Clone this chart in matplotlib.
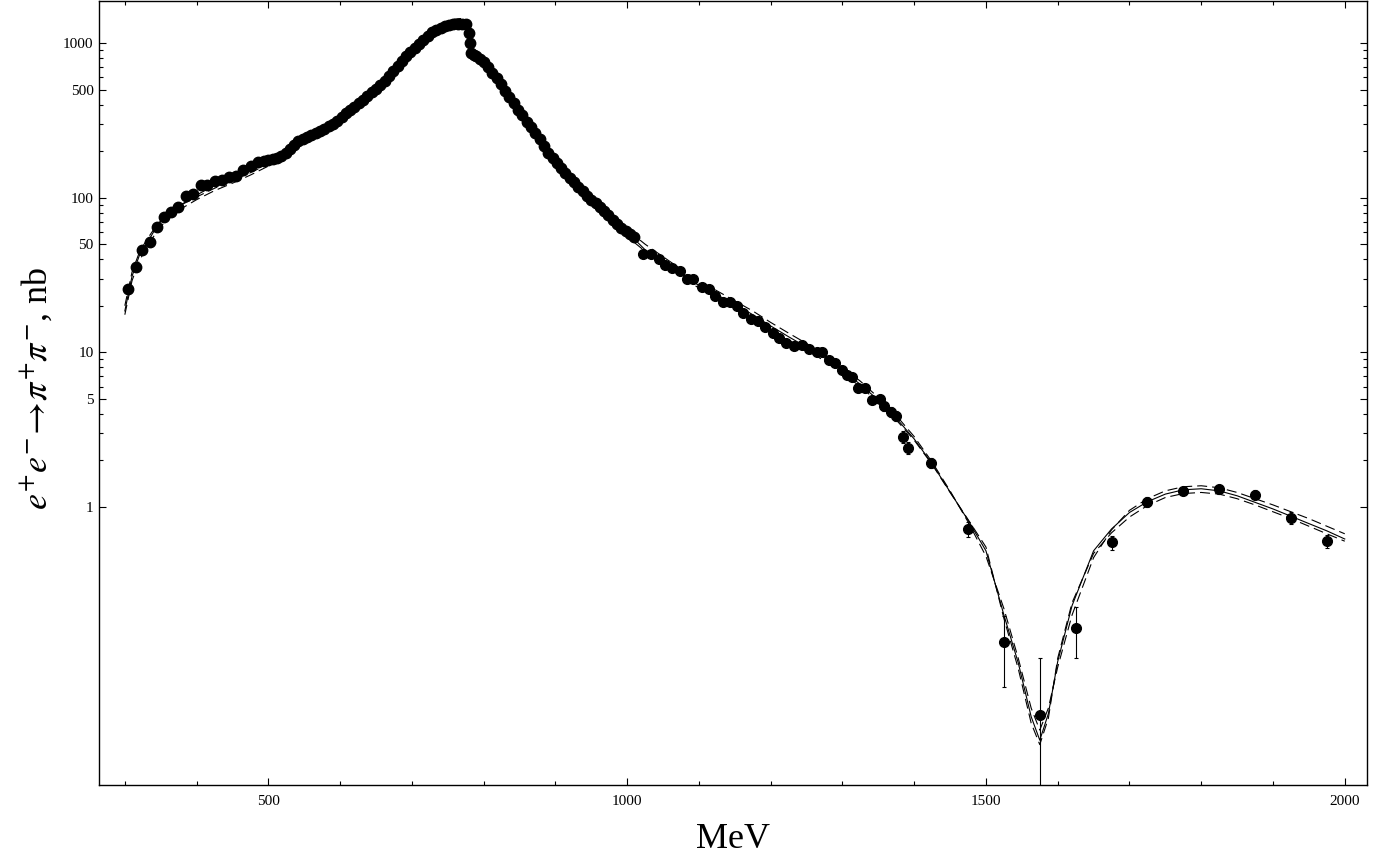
import matplotlib
matplotlib.use('Agg')
import matplotlib.pyplot as plt
from matplotlib.ticker import FixedLocator, FixedFormatter, NullFormatter

plt.rcParams['font.family'] = ['Liberation Serif', 'DejaVu Serif']
plt.rcParams['mathtext.fontset'] = 'stix'

# dense data (no visible error bars), MeV / nb
rho_E = [304, 315, 324, 335, 345, 354, 364, 374, 385, 395, 406, 414, 426, 435, 445, 455, 464, 476, 485, 494,
         500, 506, 512, 518, 524, 530, 536, 542, 548, 554, 560, 566, 572, 578, 584, 590, 596, 602, 608, 614,
         620, 626, 632, 638, 644, 650, 656, 662, 668, 674, 680, 686, 692, 698, 704, 710, 716, 722, 728, 734,
         740, 746, 752, 758, 764, 770, 775, 779, 781, 783, 786, 790, 795, 800, 806, 812, 818, 824, 830, 836,
         842, 848, 854, 860, 866, 872, 878, 884, 890, 896, 902, 908, 914, 920, 926, 932, 938, 944, 950, 956,
         962, 968, 974, 980, 986, 992, 998, 1004, 1010]
rho_sigma = [25.8, 35.8, 46, 52, 65, 75, 81, 87.5, 103, 106, 120, 120, 129, 131, 137, 139, 150, 161, 169, 173,
             174, 177, 181, 185, 195, 207, 220, 233, 241, 248, 254, 261, 270, 280, 290, 300, 315, 333, 352, 368,
             385, 408, 430, 455, 480, 505, 535, 565, 610, 660, 710, 770, 830, 880, 930, 985, 1050, 1110, 1170, 1220,
             1260, 1290, 1310, 1320, 1330, 1335, 1330, 1160, 1000, 860, 840, 820, 790, 750, 700, 640, 590, 540, 490, 450,
             410, 370, 340, 310, 285, 260, 240, 215, 195, 180, 167, 156, 145, 135, 126, 117, 110, 103, 97, 92,
             87, 82, 77, 72, 68, 64, 61, 58, 56]

# sparse data with error bars
hi_E = [1022, 1033, 1044, 1053, 1063, 1073, 1083, 1092, 1104, 1114, 1123, 1133, 1144, 1153, 1162, 1173,
        1182, 1192, 1203, 1212, 1222, 1233, 1243, 1254, 1264, 1272, 1281, 1290, 1299, 1307, 1314, 1322,
        1331, 1341, 1352, 1358, 1367, 1374, 1384, 1392, 1423, 1475, 1525, 1575, 1625, 1675, 1725, 1775,
        1825, 1875, 1925, 1975]
hi_sigma = [43, 43, 40, 36.5, 35, 33.3, 30, 30, 26.3, 25.5, 23, 21.3, 21, 19.8, 17.9, 16.3,
            15.9, 14.5, 13.3, 12.3, 11.4, 10.9, 11.1, 10.5, 10.0, 10.1, 8.9, 8.5, 7.7, 7.1, 6.9, 5.9,
            5.9, 4.9, 5.0, 4.5, 4.1, 3.9, 2.84, 2.41, 1.93, 0.72, 0.133, 0.045, 0.165, 0.59, 1.08, 1.27,
            1.30, 1.20, 0.85, 0.60]
hi_err = [1.5, 1.5, 1.4, 1.3, 1.2, 1.2, 1.1, 1.1, 1.0, 1.0, 0.9, 0.9, 0.8, 0.8, 0.7, 0.7,
          0.7, 0.6, 0.6, 0.5, 0.5, 0.5, 0.5, 0.5, 0.5, 0.5, 0.4, 0.4, 0.4, 0.4, 0.4, 0.35,
          0.35, 0.3, 0.3, 0.3, 0.3, 0.3, 0.25, 0.22, 0.15, 0.08, 0.065, 0.06, 0.06, 0.06, 0.08, 0.08,
          0.08, 0.08, 0.07, 0.06]

# model curves
curve_E = [300, 310, 320, 330, 340, 350, 360, 375, 400, 425, 450, 475,
           500, 525, 550, 575, 600, 625, 650, 675, 700, 725,
           740, 750, 760, 768, 775, 779, 782, 785, 790, 800,
           825, 850, 875, 900, 925, 950, 975, 1000, 1025, 1050, 1075, 1100, 1125, 1150,
           1175, 1200, 1225, 1250, 1275, 1300, 1325, 1350, 1375, 1400, 1425, 1450, 1475, 1500,
           1525, 1545, 1563, 1575, 1587, 1600, 1620,
           1650, 1675, 1700, 1725, 1750, 1775, 1800, 1825, 1850, 1875, 1900, 1925, 1950, 1975, 2000]
fit_solid = [18.5, 31, 42, 50, 60, 70, 78, 88, 104, 120, 134, 150,
             168, 193, 232, 270, 325, 400, 505, 650, 860, 1120,
             1260, 1330, 1370, 1385, 1360, 1250, 1020, 880, 840, 760,
             530, 355, 245, 172, 125, 95, 74, 60, 46, 38.5, 32.5, 27, 23.5, 20.5,
             17.5, 14.8, 12.6, 10.8, 9.2, 7.6, 6.2, 4.9, 3.75, 2.75, 1.9, 1.25, 0.82, 0.52,
             0.2, 0.098, 0.044, 0.031, 0.046, 0.1, 0.23,
             0.52, 0.72, 0.92, 1.08, 1.21, 1.29, 1.31, 1.27, 1.18, 1.07, 0.97, 0.87, 0.78, 0.70, 0.62]
fit_dash_a = [20, 33, 44, 53, 62, 71, 79, 88, 101, 115, 129, 145,
              165, 192, 232, 275, 333, 412, 520, 670, 880, 1150,
              1300, 1380, 1430, 1440, 1400, 1280, 1050, 910, 870, 790,
              550, 370, 255, 180, 131, 99, 77, 62, 50, 41.5, 34.5, 29, 25, 21.5,
              18.5, 15.6, 13.3, 11.4, 9.7, 8.0, 6.5, 5.1, 3.9, 2.85, 1.95, 1.27, 0.80, 0.48,
              0.22, 0.105, 0.05, 0.036, 0.05, 0.092, 0.2,
              0.47, 0.71, 0.95, 1.13, 1.27, 1.35, 1.37, 1.33, 1.24, 1.13, 1.03, 0.93, 0.84, 0.75, 0.67]
fit_dash_b = [17.5, 29, 39, 47, 56, 65, 73, 83, 97, 111, 124, 140,
              160, 187, 225, 268, 322, 395, 498, 640, 840, 1100,
              1250, 1320, 1360, 1370, 1345, 1240, 1010, 870, 830, 745,
              515, 345, 236, 165, 120, 90, 70, 56, 45, 37, 31, 26, 22.3, 19.2,
              16.4, 14.0, 12.0, 10.3, 8.8, 7.3, 6.0, 4.75, 3.65, 2.7, 1.88, 1.24, 0.83, 0.55,
              0.19, 0.09, 0.04, 0.029, 0.043, 0.105, 0.24,
              0.5, 0.68, 0.86, 1.02, 1.15, 1.22, 1.24, 1.21, 1.13, 1.03, 0.93, 0.84, 0.75, 0.67, 0.6]

y_major = [1, 5, 10, 50, 100, 500, 1000]
y_minor = [2, 3, 4, 6, 7, 8, 9, 20, 30, 40, 60, 70, 80, 90, 200, 300, 400, 600, 700, 800, 900]
x_major = [500, 1000, 1500, 2000]
x_minor = [300, 400, 600, 700, 800, 900, 1100, 1200, 1300, 1400, 1600, 1700, 1800, 1900]

fig = plt.figure(figsize=(13.87, 8.6), dpi=100)
ax = fig.add_axes([99 / 1387, 75 / 860, 1268 / 1387, 784 / 860])
ax.set_yscale('log')

# curves
ax.plot(curve_E, fit_solid, color='black', lw=0.8, zorder=2)
ax.plot(curve_E, fit_dash_a, color='black', lw=0.8, dashes=(9, 4.5), zorder=2)
ax.plot(curve_E, fit_dash_b, color='black', lw=0.8, dashes=(9, 4.5), zorder=2)

# data points
ax.plot(rho_E, rho_sigma, 'o', color='black', ms=7.5, zorder=3)
ax.errorbar(hi_E, hi_sigma, yerr=hi_err, fmt='o', color='black', ms=7,
            elinewidth=0.8, capsize=1.5, capthick=0.8, zorder=3)

ax.set_xlim(264, 2031)
ax.set_ylim(0.0159, 1870)

ax.yaxis.set_major_locator(FixedLocator(y_major))
ax.yaxis.set_major_formatter(FixedFormatter([str(v) for v in y_major]))
ax.yaxis.set_minor_locator(FixedLocator(y_minor))
ax.yaxis.set_minor_formatter(NullFormatter())
ax.xaxis.set_major_locator(FixedLocator(x_major))
ax.xaxis.set_major_formatter(FixedFormatter([str(v) for v in x_major]))
ax.xaxis.set_minor_locator(FixedLocator(x_minor))
ax.xaxis.set_minor_formatter(NullFormatter())

ax.tick_params(which='both', direction='in', top=True, right=True, width=0.8, labelsize=11)
ax.tick_params(which='major', length=5)
ax.tick_params(which='minor', length=3)
ax.tick_params(axis='x', pad=7)
ax.tick_params(axis='y', pad=4)
for sp in ax.spines.values():
    sp.set_linewidth(1.0)

fig.text(733 / 1387, 20 / 860, 'MeV', ha='center', va='center', fontsize=26)
fig.text(37 / 1387, 0.548, r'$e^{+}e^{-}\!\rightarrow\!\pi^{+}\pi^{-}$, nb', rotation=90,
         ha='center', va='center', fontsize=26)

fig.savefig('out.png', dpi=100)
